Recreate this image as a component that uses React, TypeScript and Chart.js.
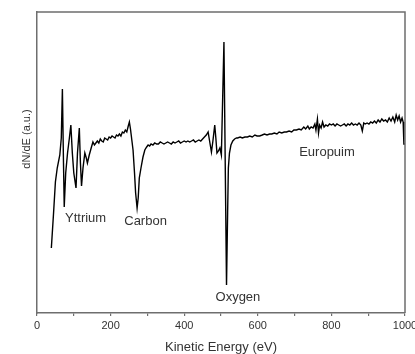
import React, { useEffect, useRef } from "react";
import { Chart, registerables } from "chart.js";

Chart.register(...registerables);

// Kinetic energy (eV)
const energy: number[] = [
  39, 45, 50, 55, 62, 66, 69, 72, 74, 78, 83, 88, 92, 96, 100, 106, 110, 115, 118, 121,
  125, 130, 134, 137, 142, 148, 152, 156, 160, 164, 168, 172, 176, 180, 184, 188, 192, 196, 200, 204,
  208, 212, 216, 220, 224, 228, 232, 236, 240, 244, 248, 251, 254, 258, 261, 265, 268, 272, 275, 278,
  283, 288, 293, 298, 302, 306, 310, 315, 320, 325, 330, 335, 340, 345, 350, 355, 360, 365, 370, 375,
  380, 385, 390, 395, 400, 405, 410, 415, 420, 425, 430, 435, 440, 445, 450, 455, 460, 465, 469, 474,
  478, 483, 486, 489, 493, 497, 501, 508, 515, 518, 520, 523, 527, 532, 537, 542, 545, 552, 558, 565,
  572, 578, 585, 592, 598, 605, 612, 618, 625, 632, 638, 645, 652, 658, 665, 672, 678, 685, 692, 698,
  705, 712, 718, 725, 730, 736, 740, 745, 750, 755, 758, 762, 765, 768, 772, 776, 780, 785, 790, 795,
  800, 805, 810, 815, 820, 825, 830, 835, 840, 845, 850, 855, 860, 865, 870, 875, 880, 884, 888, 892,
  897, 902, 907, 912, 917, 922, 927, 932, 937, 942, 947, 952, 957, 962, 967, 972, 976, 980, 984, 988,
  992, 995, 997, 1000,
];

// dN/dE (a.u.)
const dNdE: number[] = [
  65, 100, 131, 145, 158, 175, 224, 150, 106, 140, 160, 175, 188, 160, 140, 125, 160, 185, 150, 127,
  145, 160, 155, 150, 158, 166, 171, 168, 170, 172, 170, 174, 172, 171, 175, 174, 173, 176, 175, 177,
  176, 175, 178, 177, 179, 177, 181, 180, 183, 181, 187, 191, 184, 172, 163, 140, 120, 105, 115, 135,
  146, 156, 163, 166, 168, 167, 169, 168, 170, 169, 169, 171, 170, 169, 170, 171, 170, 169, 171, 170,
  171, 172, 170, 171, 172, 171, 172, 171, 172, 173, 171, 172, 173, 172, 174, 176, 178, 181, 172, 161,
  172, 188, 175, 160, 162, 165, 158, 271, 28, 100, 145, 160, 168, 172, 174, 175, 175, 176, 175, 176,
  176, 177, 176, 178, 177, 177, 178, 179, 178, 179, 179, 180, 179, 181, 180, 181, 181, 182, 181, 183,
  183, 184, 183, 186, 184, 187, 184, 186, 185, 189, 183, 194, 180, 188, 185, 191, 186, 188, 187, 189,
  188, 189, 187, 189, 188, 187, 188, 189, 187, 189, 188, 190, 188, 189, 188, 190, 188, 182, 190, 189,
  190, 189, 191, 190, 192, 190, 193, 191, 194, 192, 193, 191, 195, 192, 196, 191, 198, 193, 197, 191,
  195, 191, 169, 169,
];

const xTicks: number[] = [0, 200, 400, 600, 800, 1000];

const peakNames: string[] = ["Yttrium", "Carbon", "Oxygen", "Europuim"];
const peakLabelE: number[] = [132, 295, 546, 788];
const peakLabelY: number[] = [91.5, 88, 12, 157];

const xTitle = "Kinetic Energy (eV)";
const yTitle = "dN/dE (a.u.)";

const TEXT = "#333333";
const FRAME = "#6e6e6e";
const FONT = "'Liberation Sans', Arial, sans-serif";

export default function App() {
  const ref = useRef<HTMLCanvasElement | null>(null);

  useEffect(() => {
    const canvas = ref.current;
    if (!canvas) return;

    const annotate = {
      id: "annotate",
      afterDraw(chart: any) {
        const { ctx, chartArea, scales } = chart;
        const xs = scales.x;
        const ys = scales.y;
        ctx.save();
        ctx.strokeStyle = FRAME;
        ctx.lineWidth = 1.5;
        ctx.beginPath();
        ctx.moveTo(chartArea.left, chartArea.top);
        ctx.lineTo(chartArea.right, chartArea.top);
        ctx.lineTo(chartArea.right, chartArea.bottom);
        ctx.stroke();

        ctx.fillStyle = TEXT;
        ctx.font = `13px ${FONT}`;
        ctx.textAlign = "center";
        ctx.textBaseline = "alphabetic";
        peakNames.forEach((n, i) => {
          ctx.fillText(n, xs.getPixelForValue(peakLabelE[i]), ys.getPixelForValue(peakLabelY[i]));
        });

        ctx.font = `13px ${FONT}`;
        ctx.fillText(xTitle, (chartArea.left + chartArea.right) / 2, 351);
        ctx.save();
        ctx.translate(29.5, 139);
        ctx.rotate(-Math.PI / 2);
        ctx.font = `11px ${FONT}`;
        ctx.fillText(yTitle, 0, 0);
        ctx.restore();
        ctx.restore();
      },
    };

    const chart = new Chart(canvas, {
      type: "line",
      data: {
        datasets: [
          {
            data: energy.map((e, i) => ({ x: e, y: dNdE[i] })),
            borderColor: "#000000",
            borderWidth: 1.4,
            pointRadius: 0,
            tension: 0,
            fill: false,
          },
        ],
      },
      options: {
        animation: false,
        responsive: false,
        layout: { padding: { top: 12, right: 10, left: 0, bottom: 0 } },
        plugins: { legend: { display: false }, tooltip: { enabled: false } },
        scales: {
          x: {
            type: "linear",
            min: 0,
            max: 1000,
            afterBuildTicks: (scale: any) => {
              const t: any[] = [];
              for (let v = 0; v <= 1000; v += 100) t.push({ value: v });
              scale.ticks = t;
            },
            afterFit: (scale: any) => {
              scale.height = 41;
              scale.paddingLeft = 0;
              scale.paddingRight = 0;
            },
            ticks: {
              autoSkip: false,
              maxRotation: 0,
              padding: 3,
              color: TEXT,
              font: { size: 11, family: FONT },
              callback: (v: any) => (xTicks.includes(Number(v)) ? String(v) : ""),
            },
            grid: {
              display: true,
              drawOnChartArea: false,
              drawTicks: true,
              tickLength: 3,
              color: FRAME,
              lineWidth: 1.2,
            },
            border: { display: true, color: FRAME, width: 1.5 },
          },
          y: {
            type: "linear",
            min: 0,
            max: 301,
            afterFit: (scale: any) => {
              scale.width = 37;
            },
            ticks: { display: false },
            grid: { display: false, drawTicks: false },
            border: { display: true, color: FRAME, width: 1.5 },
          },
        },
      },
      plugins: [annotate],
    } as any);

    return () => chart.destroy();
  }, []);

  return (
    <div style={{ position: "fixed", left: 0, top: 0, width: 415, height: 354, background: "#fff" }}>
      <canvas ref={ref} width={415} height={354} style={{ display: "block" }} />
    </div>
  );
}
